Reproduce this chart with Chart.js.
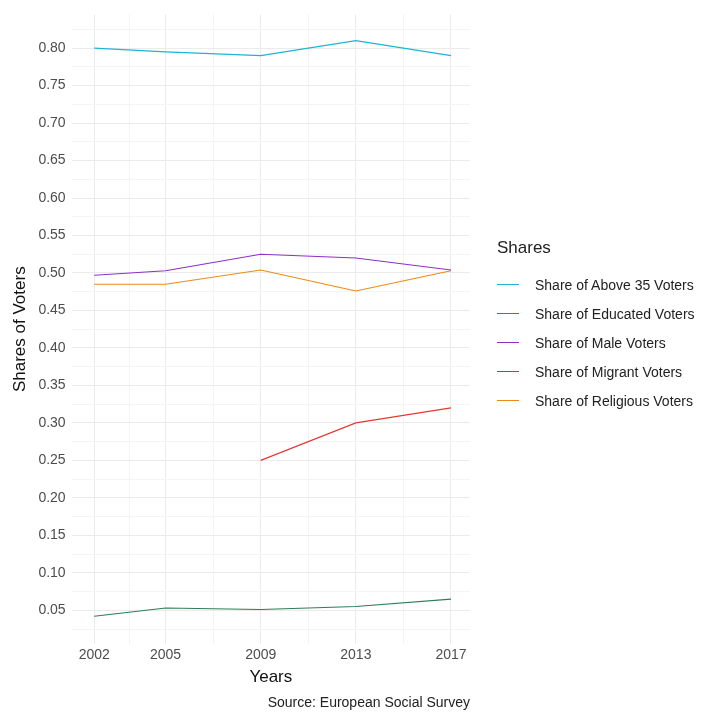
<!DOCTYPE html>
<html><head><meta charset="utf-8">
<script src="https://cdn.jsdelivr.net/npm/chart.js@4/dist/chart.umd.min.js"></script>
<style>
body{margin:0;background:#fff;font-family:"Liberation Sans",Arial,sans-serif}
#wrap{position:relative;width:720px;height:720px}
#legend{position:absolute;left:497px;top:238px;color:#222}
#legend h4{margin:0 0 12px 0;font-weight:normal;font-size:17px}
.it{display:flex;align-items:center;height:29px;font-size:14px}
.it span{display:inline-block;width:22px;height:0;border-top:1.5px solid;margin-right:16px}
</style></head>
<body><div id="wrap"><canvas id="c" width="720" height="720"></canvas><div id="legend"><h4>Shares</h4></div></div>
<script>
const years = [2002, 2005, 2009, 2013, 2017];
const seriesNames = ['Share of Above 35 Voters','Share of Educated Voters','Share of Male Voters','Share of Migrant Voters','Share of Religious Voters'];
const above35 = [0.800, 0.795, 0.790, 0.810, 0.790];
const educated = [null, null, 0.250, 0.300, 0.320];
const male = [0.497, 0.503, 0.525, 0.520, 0.504];
const migrant = [0.042, 0.053, 0.051, 0.055, 0.065];
const religious = [0.485, 0.485, 0.504, 0.476, 0.503];
const colors = ['#1CB5D6','#E53935','#8E2FC7','#2E7D55','#EE8A12'];
const yMajor = [0.05,0.10,0.15,0.20,0.25,0.30,0.35,0.40,0.45,0.50,0.55,0.60,0.65,0.70,0.75,0.80];
const xMajor = [2002, 2005, 2009, 2013, 2017];

const all = [above35, educated, male, migrant, religious];
const datasets = all.map((vals, i) => ({
  label: seriesNames[i],
  data: years.map((y, j) => ({x: y, y: vals[j]})),
  borderColor: colors[i], borderWidth: 1.2, pointRadius: 0, fill: false, tension: 0, spanGaps: false
}));
const lg = document.getElementById('legend');
seriesNames.forEach((n, i) => { lg.insertAdjacentHTML('beforeend', `<div class="it"><span style="border-color:${colors[i]}"></span>${n}</div>`); });

const isMajor = (arr, v) => arr.some(a => Math.abs(a - v) < 1e-6);
new Chart(document.getElementById('c'), {
  type: 'line',
  data: {datasets},
  options: {
    responsive: false, animation: false,
    layout: {padding: {left: 6, right: 250, top: 10, bottom: 0}},
    plugins: {
      legend: {display: false},
      subtitle: {display: true, position: 'bottom', align: 'end', text: 'Source: European Social Survey',
        color: '#222', font: {size: 14, family: 'Liberation Sans'}, padding: {top: 4, bottom: 8}}
    },
    scales: {
      x: {type: 'linear', min: 2001.05, max: 2017.8,
        afterBuildTicks: ax => { const t = []; for (let i = 0; i < xMajor.length; i++) { t.push({value: xMajor[i]}); if (i < xMajor.length - 1) t.push({value: (xMajor[i] + xMajor[i+1]) / 2}); } ax.ticks = t; },
        ticks: {autoSkip: false, maxRotation: 0, color: '#4d4d4d', font: {size: 14, family: 'Liberation Sans'},
          callback: v => isMajor(xMajor, v) ? String(v) : ''},
        grid: {color: c => isMajor(xMajor, c.tick.value) ? '#ebebeb' : '#f4f4f4', drawTicks: false},
        border: {display: false},
        title: {display: true, text: 'Years', color: '#111', font: {size: 17, family: 'Liberation Sans'}, padding: {top: 0}}
      },
      y: {min: 0.005, max: 0.845,
        afterBuildTicks: ax => { const t = []; for (let v = 0.025; v < 0.84; v += 0.025) t.push({value: Math.round(v * 1000) / 1000}); ax.ticks = t; },
        ticks: {autoSkip: false, color: '#4d4d4d', font: {size: 14, family: 'Liberation Sans'}, padding: 6,
          callback: v => isMajor(yMajor, v) ? v.toFixed(2) : ''},
        grid: {color: c => isMajor(yMajor, c.tick.value) ? '#ebebeb' : '#f4f4f4', drawTicks: false},
        border: {display: false},
        title: {display: true, text: 'Shares of Voters', color: '#111', font: {size: 17, family: 'Liberation Sans'}, padding: {bottom: 2}}
      }
    }
  }
});
</script></body></html>
